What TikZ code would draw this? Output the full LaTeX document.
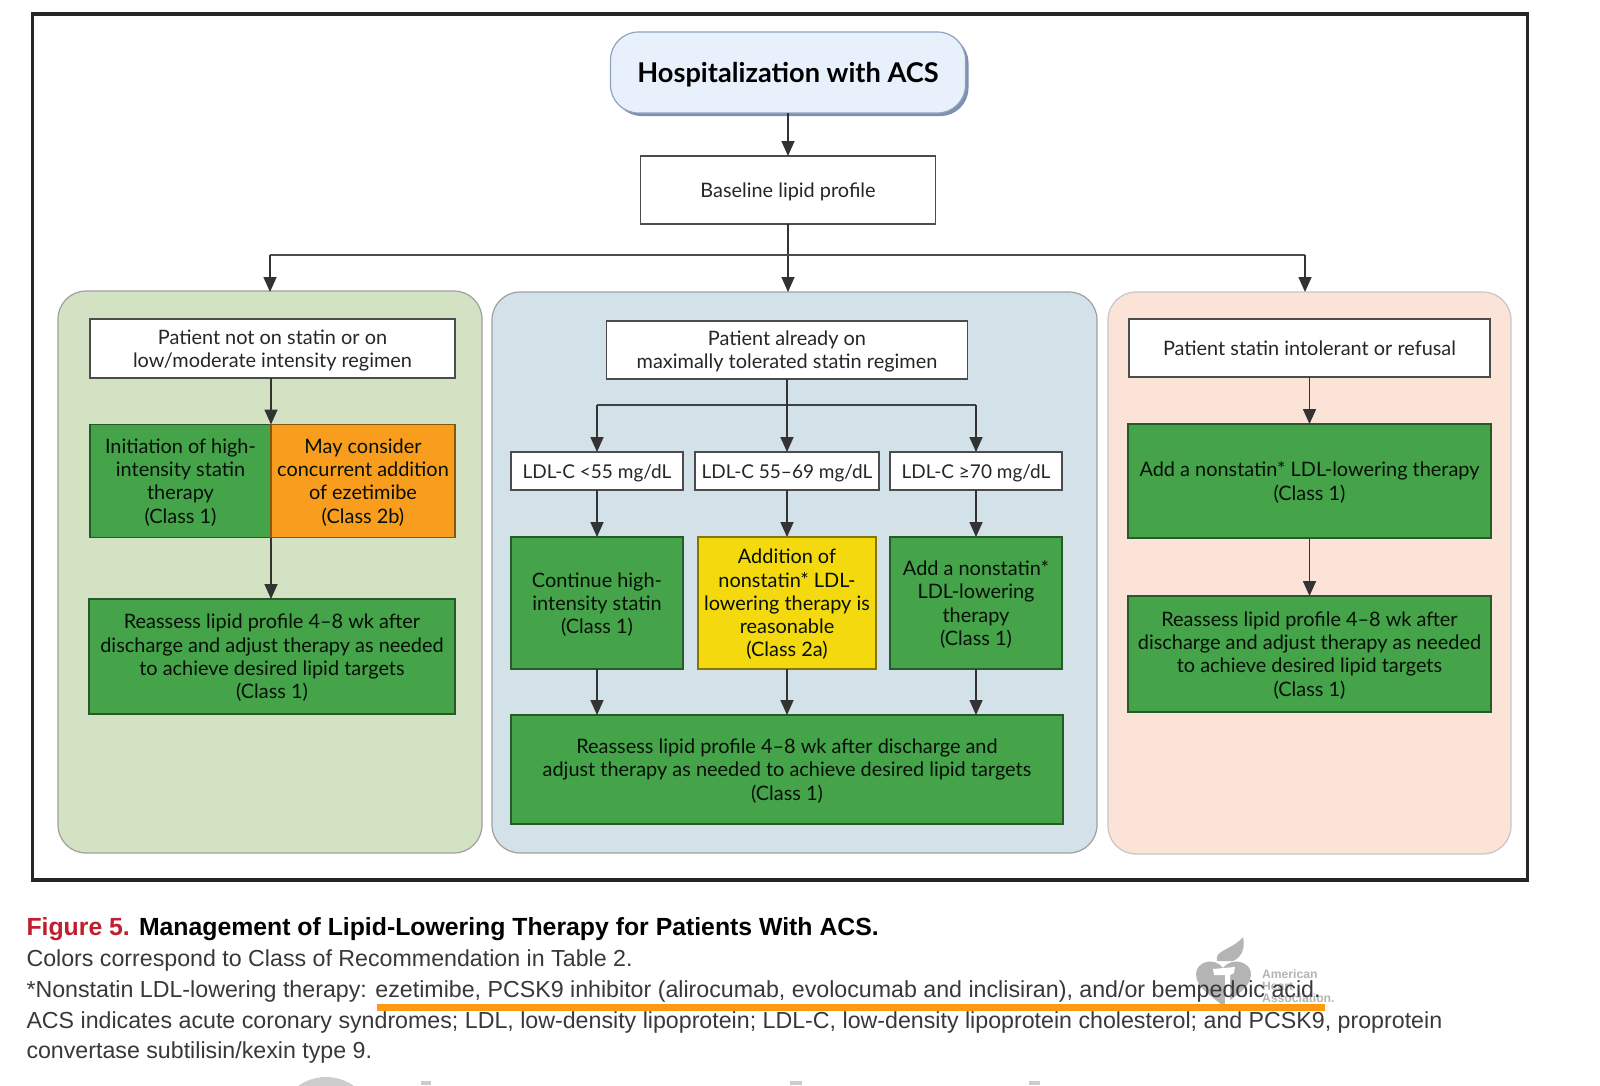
\documentclass[tikz,border=0pt]{standalone}
\usepackage{fontspec}
\setmainfont{Lato}
\newfontfamily\capfont{Liberation Sans}
\usetikzlibrary{arrows.meta}
\usetikzlibrary{shadows}

\definecolor{greenpanel}{HTML}{D3E2C3}
\definecolor{bluepanel}{HTML}{D3E1E8}
\definecolor{peachpanel}{HTML}{FCE3D8}
\definecolor{classone}{HTML}{45A349}
\definecolor{classtwob}{HTML}{F99D1E}
\definecolor{classtwoa}{HTML}{F4D90F}
\definecolor{capred}{HTML}{BE1E2D}
\definecolor{capline}{HTML}{FF9A0E}
\definecolor{logogray}{HTML}{B4B4B4}
\definecolor{topfill}{HTML}{E8F1FB}
\definecolor{topedge}{HTML}{8FA3BF}
\definecolor{topshadow}{HTML}{7F8FAF}

\begin{document}
\begin{tikzpicture}[x=1pt,y=-1pt]
   \tikzset{every node/.style={inner sep=0pt, outer sep=0pt, align=center, text=black!85, font=\fontsize{19.9}{23.3}\selectfont}}
   \tikzset{Panel/.style={draw=gray!75, line width=1.2pt, rounded corners=28pt}}
   \tikzset{WhiteBox/.style={draw=black!70, fill=white, line width=1.5pt, text depth=0pt}}
   \tikzset{GreenBox/.style={draw=black!45!classone, fill=classone, line width=1.5pt, text depth=0pt, text=black!90!classone}}
   \tikzset{LdlBox/.style={WhiteBox, font=\fontsize{19}{23.3}\selectfont}}
   \tikzset{EdgeStyle/.style={draw=black!80, line width=1.6pt, -{Triangle[width=13pt,length=15pt]}}}
   \tikzset{Caption/.style={anchor=base west, align=left, text=black!78, font=\capfont\fontsize{23.2}{27}\selectfont}}
   \useasboundingbox (0,0) rectangle (1600,1085);
   % frame
   \node[draw=black!85, line width=3.5pt, minimum width=1495pt, minimum height=866pt] (frame) at (780,447) {};
   % panels
   \node[Panel, fill=greenpanel, minimum width=424pt, minimum height=562pt] (pleft) at (270,572) {};
   \node[Panel, fill=bluepanel, minimum width=605pt, minimum height=561pt] (pmid) at (794.5,572.5) {};
   \node[Panel, fill=peachpanel, draw=gray!45, minimum width=403pt, minimum height=562pt] (pright) at (1309.5,573) {};
   % top
   \node[draw=topedge, fill=topfill, line width=1.2pt, rounded corners=28pt, minimum width=355pt, minimum height=81pt,
      drop shadow={shadow xshift=3pt, shadow yshift=-3pt, fill=topshadow, opacity=1}, text depth=0pt,
      font=\fontsize{27.2}{30}\bfseries\selectfont, text=black] (hosp) at (788,72.5) {Hospitalization with ACS};
   \node[WhiteBox, minimum width=295pt, minimum height=68pt] (base) at (788,190) {Baseline lipid profile};
   \coordinate (split) at (788,255);
   \coordinate (splitl) at (270,255);
   \coordinate (splitr) at (1305,255);
   \coordinate (tipl) at (270,292);
   \coordinate (tipm) at (788,292);
   \coordinate (tipr) at (1305,292);
   \draw[EdgeStyle] (hosp) -- (base);
   \draw[EdgeStyle] (base) -- (tipm);
   \draw[draw=black!70, line width=1.6pt] (splitl) -- (splitr);
   \draw[EdgeStyle] (splitl) -- (tipl);
   \draw[EdgeStyle] (splitr) -- (tipr);
   % left column
   \node[WhiteBox, minimum width=365pt, minimum height=59pt] (notstatin) at (272.5,348.5) {Patient not on statin or on\\low/moderate intensity regimen};
   \node[GreenBox, minimum width=181pt, minimum height=113pt] (init) at (180.5,481) {Initiation of high-\\intensity statin\\therapy\\(Class 1)};
   \node[GreenBox, fill=classtwob, draw=black!45!classtwob, minimum width=184pt, minimum height=113pt] (ezet) at (363,481) {May consider\\concurrent addition\\of ezetimibe\\(Class 2b)};
   \node[GreenBox, minimum width=366pt, minimum height=115pt] (reassl) at (272,656.5) {Reassess lipid profile 4--8 wk after\\discharge and adjust therapy as needed\\to achieve desired lipid targets\\(Class 1)};
   \draw[EdgeStyle] (notstatin.south -| init.east) -- (init.north east);
   \draw[EdgeStyle] (init.south east) -- (reassl.north -| init.east);
   % middle column
   \node[WhiteBox, minimum width=361pt, minimum height=58pt] (onstatin) at (787,350) {Patient already on\\maximally tolerated statin regimen};
   \node[LdlBox, minimum width=172pt, minimum height=38pt] (lowldl) at (597,471) {LDL-C <55 mg/dL};
   \node[LdlBox, minimum width=184pt, minimum height=38pt] (midldl) at (787,471) {LDL-C 55--69 mg/dL};
   \node[LdlBox, minimum width=172pt, minimum height=38pt] (highldl) at (976,471) {LDL-C ≥70 mg/dL};
   \node[GreenBox, minimum width=172pt, minimum height=132pt] (cont) at (597,603) {Continue high-\\intensity statin\\(Class 1)};
   \node[GreenBox, fill=classtwoa, draw=black!45!classtwoa, minimum width=178pt, minimum height=132pt] (addyel) at (787,603) {Addition of\\nonstatin* LDL-\\lowering therapy is\\reasonable\\(Class 2a)};
   \node[GreenBox, minimum width=172pt, minimum height=132pt] (addgrn) at (976,603) {Add a nonstatin*\\LDL-lowering\\therapy\\(Class 1)};
   \node[GreenBox, minimum width=552pt, minimum height=109pt] (reassm) at (787,769.5) {Reassess lipid profile 4--8 wk after discharge and\\adjust therapy as needed to achieve desired lipid targets\\(Class 1)};
   \coordinate (forkl) at (597,405);
   \coordinate (forkr) at (976,405);
   \draw[draw=black!75, line width=1.6pt] (forkl) -- (forkr);
   \draw[EdgeStyle] (forkl) -- (lowldl);
   \draw[EdgeStyle] (onstatin) -- (midldl);
   \draw[EdgeStyle] (forkr) -- (highldl);
   \draw[EdgeStyle] (lowldl) -- (cont);
   \draw[EdgeStyle] (midldl) -- (addyel);
   \draw[EdgeStyle] (highldl) -- (addgrn);
   \draw[EdgeStyle] (cont) -- (reassm.north -| cont);
   \draw[EdgeStyle] (addyel) -- (reassm);
   \draw[EdgeStyle] (addgrn) -- (reassm.north -| addgrn);
   % right column
   \node[WhiteBox, minimum width=361pt, minimum height=58pt] (refusal) at (1309.5,348) {Patient statin intolerant or refusal};
   \node[GreenBox, minimum width=363pt, minimum height=114pt] (addnon) at (1309.5,481) {Add a nonstatin* LDL-lowering therapy\\(Class 1)};
   \node[GreenBox, minimum width=363pt, minimum height=116pt] (reassr) at (1309.5,654) {Reassess lipid profile 4--8 wk after\\discharge and adjust therapy as needed\\to achieve desired lipid targets\\(Class 1)};
   \draw[EdgeStyle] (refusal) -- (addnon);
   \draw[EdgeStyle] (addnon) -- (reassr);
   % logo behind the caption
   \fill[logogray] (1223,1006) .. controls (1212,996) and (1196,988) .. (1196,974) .. controls (1196,962) and (1214,956) .. (1223,968) .. controls (1232,956) and (1251,962) .. (1251,974) .. controls (1251,988) and (1234,996) .. (1223,1006) -- cycle;
   \fill[logogray] (1217,961) .. controls (1214,950) and (1232,950) .. (1243,937) .. controls (1246,950) and (1240,958) .. (1233,961) -- cycle;
   \fill[white] (1213,969) -- (1235,967) -- (1234,973) -- (1230,975) -- (1230,1004) -- (1225,1004) -- (1225,975) -- (1214,975) -- cycle;
   \node[anchor=base west, align=left, text=logogray, font=\capfont\bfseries\fontsize{12.2}{11.8}\selectfont] (aha) at (1262,1002) {American\\Heart\\Association.};
   % caption
   \node[Caption, font=\capfont\bfseries\fontsize{24.8}{27}\selectfont, text=black] (title) at (26.5,935) {\textcolor{capred}{Figure 5.} Management of Lipid-Lowering Therapy for Patients With ACS.};
   \node[Caption] (cap1) at (26.5,966) {Colors correspond to Class of Recommendation in Table 2.};
   \node[Caption] (cap2) at (26.5,997) {*Nonstatin LDL-lowering therapy: ezetimibe, PCSK9 inhibitor (alirocumab, evolocumab and inclisiran), and/or bempedoic acid.};
   \node[Caption] (cap3) at (26.5,1028) {ACS indicates acute coronary syndromes; LDL, low-density lipoprotein; LDL-C, low-density lipoprotein cholesterol; and PCSK9, proprotein};
   \node[Caption] (cap4) at (26.5,1058) {convertase subtilisin/kexin type 9.};
   \coordinate (markl) at (376.5,1007);
   \coordinate (markr) at (1325,1007);
   \draw[capline, line width=7pt] (markl) -- (markr);
   % cut off marks at the bottom edge
   \begin{scope}
      \clip (0,1070) rectangle (1600,1085);
      \fill[gray!40] (326,1125) circle (48pt);
      \fill[gray!40] (421,1081) rectangle (431,1085);
      \fill[gray!40] (790,1081) rectangle (802,1085);
      \fill[gray!40] (1029,1081) rectangle (1040,1085);
   \end{scope}
\end{tikzpicture}
\end{document}
